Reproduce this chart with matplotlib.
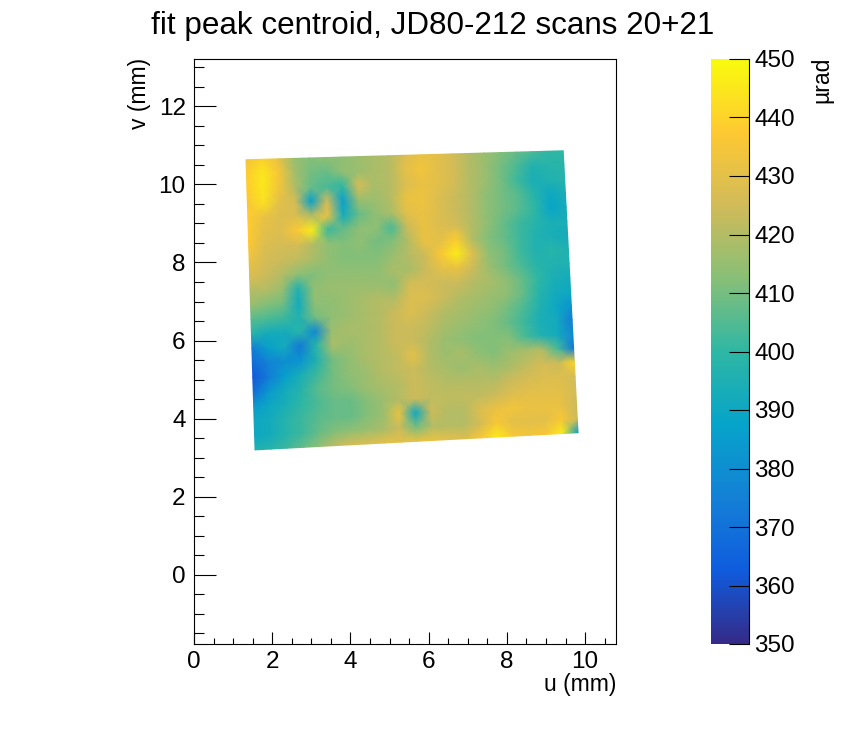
# fit peak centroid map, ROOT style
import matplotlib
matplotlib.use('Agg')
import matplotlib.pyplot as plt
import numpy as np
from matplotlib.colors import LinearSegmentedColormap, Normalize
from matplotlib.cm import ScalarMappable
from matplotlib.ticker import MultipleLocator

plt.rcParams['font.family'] = ['Liberation Sans', 'DejaVu Sans']

# ROOT kBird palette
bird_r = [0.2082, 0.0592, 0.0780, 0.0232, 0.1802, 0.5301, 0.8186, 0.9956, 0.9764]
bird_g = [0.1664, 0.3599, 0.5041, 0.6419, 0.7178, 0.7492, 0.7328, 0.7862, 0.9832]
bird_b = [0.5293, 0.8684, 0.8385, 0.7914, 0.6425, 0.4662, 0.3499, 0.1968, 0.0539]

# corners of the scanned area: bottom left, bottom right, top left, top right
corner_u = [1.56, 9.82, 1.33, 9.44]
corner_v = [3.20, 3.64, 10.63, 10.86]

# centroid in urad, rows top to bottom, columns left to right
centroid = np.array([
    [434, 440, 432, 416, 412, 414, 414, 416, 418, 420, 428, 432, 430, 426, 420, 416, 412, 408, 404, 400, 400],
    [438, 445, 436, 418, 410, 408, 414, 416, 418, 420, 430, 434, 430, 426, 420, 416, 410, 404, 396, 398, 398],
    [438, 445, 434, 420, 408, 404, 400, 426, 418, 420, 428, 432, 430, 426, 420, 416, 410, 402, 394, 396, 398],
    [436, 443, 430, 426, 386, 425, 386, 416, 416, 420, 432, 433, 428, 424, 420, 414, 410, 406, 398, 390, 394],
    [438, 432, 428, 428, 420, 432, 392, 408, 414, 418, 430, 432, 428, 424, 420, 414, 410, 406, 400, 388, 392],
    [438, 430, 428, 436, 446, 402, 408, 414, 414, 404, 424, 432, 428, 426, 420, 414, 408, 402, 398, 394, 394],
    [436, 428, 426, 426, 420, 414, 412, 414, 410, 412, 420, 432, 430, 438, 420, 412, 408, 402, 396, 394, 392],
    [432, 426, 424, 422, 418, 414, 412, 412, 412, 416, 420, 424, 436, 446, 428, 414, 410, 402, 396, 398, 396],
    [428, 424, 420, 414, 412, 414, 414, 414, 414, 418, 418, 424, 430, 432, 424, 416, 410, 404, 398, 396, 396],
    [420, 420, 416, 396, 414, 416, 416, 416, 416, 414, 426, 426, 424, 424, 420, 418, 414, 408, 400, 394, 392],
    [416, 412, 410, 392, 414, 414, 416, 418, 420, 420, 428, 428, 424, 420, 418, 416, 414, 408, 398, 392, 390],
    [406, 404, 402, 396, 410, 414, 416, 418, 420, 424, 428, 424, 420, 418, 416, 414, 410, 404, 396, 390, 382],
    [398, 392, 392, 398, 378, 416, 418, 418, 420, 424, 424, 422, 418, 416, 414, 412, 408, 402, 394, 392, 374],
    [374, 386, 392, 372, 398, 418, 416, 418, 420, 424, 424, 420, 416, 414, 412, 412, 412, 404, 396, 392, 378],
    [368, 376, 380, 382, 396, 410, 414, 418, 420, 422, 430, 420, 416, 418, 414, 412, 416, 418, 420, 404, 372],
    [362, 374, 386, 394, 402, 410, 414, 416, 420, 422, 424, 420, 418, 416, 418, 416, 418, 422, 426, 424, 440],
    [368, 384, 392, 398, 406, 410, 412, 416, 418, 420, 424, 422, 420, 420, 420, 420, 424, 426, 428, 428, 426],
    [384, 390, 394, 400, 404, 408, 408, 412, 416, 420, 424, 422, 422, 422, 422, 424, 428, 430, 430, 430, 426],
    [390, 392, 398, 402, 406, 408, 408, 412, 416, 432, 390, 424, 420, 420, 428, 432, 434, 432, 432, 432, 424],
    [390, 392, 398, 402, 408, 412, 414, 416, 418, 424, 410, 420, 420, 420, 426, 436, 430, 430, 430, 436, 424],
    [396, 398, 402, 408, 414, 422, 426, 428, 430, 430, 432, 432, 430, 428, 436, 446, 436, 434, 436, 446, 385],
], dtype=float)

u_ticks = [0, 2, 4, 6, 8, 10]
v_ticks = [0, 2, 4, 6, 8, 10, 12]
z_ticks = [350, 360, 370, 380, 390, 400, 410, 420, 430, 440, 450]

bird = LinearSegmentedColormap.from_list('bird', list(zip(bird_r, bird_g, bird_b)), N=256)
norm = Normalize(350, 450)

W, H = 862, 732
fig = plt.figure(figsize=(W / 100, H / 100), dpi=100)
ax = fig.add_axes([194 / W, 1 - 644 / H, 422 / W, 585 / H])
cax = fig.add_axes([711 / W, 1 - 644 / H, 38 / W, 585 / H])

# mesh spanning the four corners
values = centroid[::-1]
ny, nx = values.shape
s, t = np.meshgrid(np.linspace(0, 1, nx), np.linspace(0, 1, ny))
U = (1 - s) * (1 - t) * corner_u[0] + s * (1 - t) * corner_u[1] + (1 - s) * t * corner_u[2] + s * t * corner_u[3]
V = (1 - s) * (1 - t) * corner_v[0] + s * (1 - t) * corner_v[1] + (1 - s) * t * corner_v[2] + s * t * corner_v[3]
ax.pcolormesh(U, V, values, cmap=bird, norm=norm, shading='gouraud')

ax.set_xlim(0, 10.79)
ax.set_ylim(-1.77, 13.21)
ax.set_xticks(u_ticks)
ax.set_yticks(v_ticks)
ax.xaxis.set_minor_locator(MultipleLocator(0.5))
ax.yaxis.set_minor_locator(MultipleLocator(0.5))
ax.tick_params(axis='x', which='major', direction='in', length=8.4, width=0.8, labelsize=17.5, pad=5)
ax.tick_params(axis='x', which='minor', direction='in', length=4, width=0.8)
ax.tick_params(axis='y', which='major', direction='in', length=15.5, width=0.8, labelsize=17.5, pad=6)
ax.tick_params(axis='y', which='minor', direction='in', length=7.5, width=0.8)
for spine in ax.spines.values():
    spine.set_linewidth(0.8)

cb = fig.colorbar(ScalarMappable(norm=norm, cmap=bird), cax=cax)
cb.set_ticks(z_ticks)
cb.outline.set_visible(False)
cax.spines['right'].set_visible(True)
cax.minorticks_off()
cax.tick_params(axis='y', direction='in', right=True, length=14.4, width=0.8, labelsize=17.5, pad=4)
for lab in cax.get_yticklabels():
    lab.set_y(lab.get_position()[1])

fig.text(433 / W, 1 - 26 / H, 'fit peak centroid, JD80-212 scans 20+21', ha='center', va='center', fontsize=22.6)
fig.text(616 / W, 1 - 684 / H, 'u (mm)', ha='right', va='center', fontsize=16.5)
fig.text(140 / W, 1 - 58 / H, 'v (mm)', ha='center', va='top', rotation=90, fontsize=16.5)
fig.text(822 / W, 1 - 57 / H, 'µrad', ha='center', va='top', rotation=90, fontsize=16.5)

fig.savefig('out.png', dpi=100)
